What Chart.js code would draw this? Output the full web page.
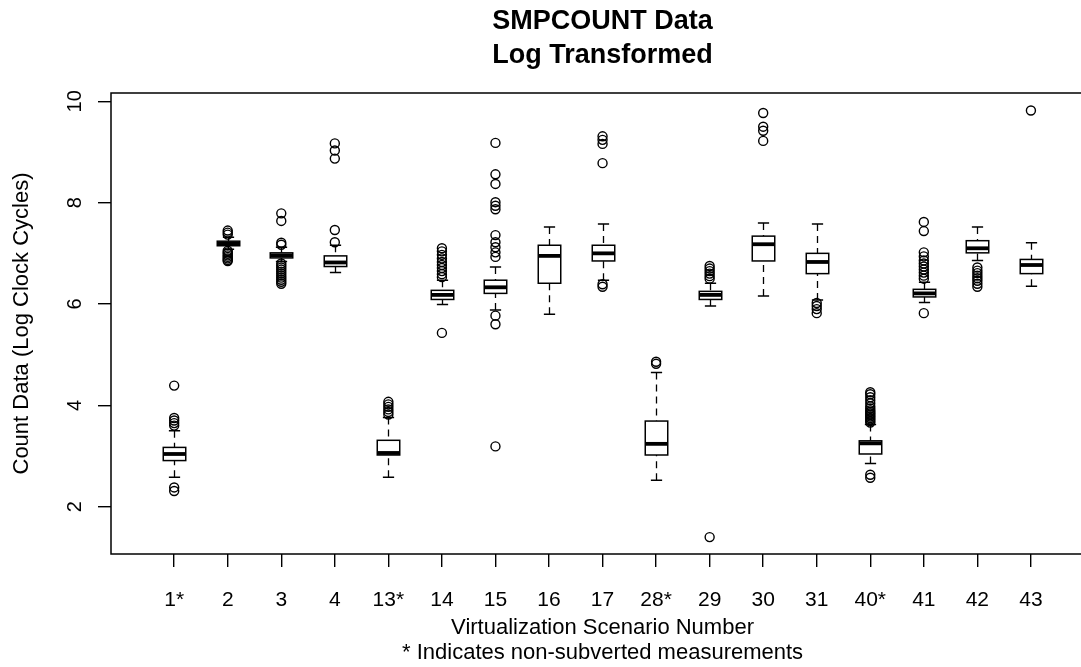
<!DOCTYPE html>
<html>
<head>
<meta charset="utf-8">
<title>SMPCOUNT Data - Log Transformed</title>
<script src="https://cdn.jsdelivr.net/npm/chart.js@4.4.1/dist/chart.umd.min.js"></script>
<style>
  html, body { margin: 0; padding: 0; background: #fff; overflow: hidden; }
  canvas { display: block; }
</style>
</head>
<body>
<!-- plot region runs a bit past the right edge of the window, like the cropped original -->
<canvas id="box-chart" width="1100" height="667" style="width:1100px;height:667px"></canvas>
<script>
// scenario labels (* = non-subverted)
const scenarios = ['1*', '2', '3', '4', '13*', '14', '15', '16', '17', '28*', '29', '30', '31', '40*', '41', '42', '43'];

// five-number summaries
const whiskerLow  = [2.58, 7.08, 6.84, 6.62, 2.58, 5.99, 5.88, 5.80, 6.47, 2.52, 5.96, 6.16, 6.08, 2.85, 6.03, 6.86, 6.35];
const q1          = [2.91, 7.15, 6.91, 6.74, 3.02, 6.09, 6.21, 6.41, 6.85, 3.02, 6.09, 6.85, 6.60, 3.04, 6.14, 7.01, 6.60];
const medians     = [3.04, 7.19, 6.96, 6.82, 3.06, 6.18, 6.33, 6.95, 7.00, 3.24, 6.18, 7.18, 6.83, 3.25, 6.21, 7.10, 6.77];
const q3          = [3.17, 7.24, 7.01, 6.95, 3.31, 6.27, 6.47, 7.16, 7.16, 3.69, 6.25, 7.34, 7.00, 3.30, 6.29, 7.25, 6.88];
const whiskerHigh = [3.50, 7.32, 7.12, 7.16, 3.76, 6.47, 6.73, 7.52, 7.58, 4.65, 6.41, 7.60, 7.58, 3.62, 6.43, 7.52, 7.21];

const outliers = [
  [2.31, 2.38, 3.60, 3.65, 3.70, 3.75, 4.39],
  [7.37, 7.41, 7.45, 7.05, 7.02, 6.99, 6.96, 6.93, 6.90, 6.87, 6.85],
  [7.79, 7.64, 7.21, 7.17, 6.80, 6.76, 6.72, 6.68, 6.64, 6.60, 6.56, 6.52, 6.48, 6.44, 6.40],
  [9.17, 9.03, 8.87, 7.46, 7.22],
  [3.82, 3.87, 3.92, 3.97, 4.02, 4.07],
  [6.53, 6.59, 6.65, 6.71, 6.77, 6.83, 6.90, 6.97, 7.04, 7.10, 5.43],
  [9.18, 8.56, 8.37, 8.01, 7.94, 7.87, 7.36, 7.22, 7.12, 7.02, 6.93, 5.77, 5.60, 3.19],
  [],
  [9.31, 9.24, 9.16, 8.78, 6.39, 6.34],
  [4.82, 4.86],
  [6.50, 6.55, 6.60, 6.65, 6.70, 6.75, 1.40],
  [9.77, 9.50, 9.42, 9.22],
  [6.02, 5.96, 5.90, 5.82],
  [3.66, 3.69, 3.72, 3.75, 3.78, 3.81, 3.84, 3.87, 3.90, 3.94, 3.98, 4.04, 4.10, 4.16, 4.22, 4.26, 2.63, 2.57],
  [7.62, 7.44, 7.02, 6.94, 6.86, 6.80, 6.74, 6.68, 6.62, 6.56, 6.50, 5.82],
  [6.72, 6.66, 6.61, 6.56, 6.51, 6.46, 6.40, 6.34],
  [9.82]
];

const yTicks = [2, 4, 6, 8, 10];

const FONT = 'Liberation Sans, Arial, Helvetica, sans-serif';
const BOX_HALF = 0.21;   // half box width, in x units

// outlier points for the scatter dataset
let outlierPoints = [];
outliers.forEach(function(list, i) {
  list.forEach(function(v) {
    outlierPoints.push({x: i + 1, y: v});
  });
});

// draws boxes, whiskers and medians using the chart scales
const boxplotPlugin = {
  id: 'boxplot',
  beforeDatasetsDraw(chart) {
    const ctx = chart.ctx;
    const xs = chart.scales.x;
    const ys = chart.scales.y;
    const half = xs.getPixelForValue(1 + BOX_HALF) - xs.getPixelForValue(1);

    ctx.save();
    ctx.strokeStyle = '#000';
    scenarios.forEach(function(s, i) {
      const cx = Math.round(xs.getPixelForValue(i + 1)) + 0.5;
      const yLo = ys.getPixelForValue(whiskerLow[i]);
      const yQ1 = ys.getPixelForValue(q1[i]);
      const yMed = ys.getPixelForValue(medians[i]);
      const yQ3 = ys.getPixelForValue(q3[i]);
      const yHi = ys.getPixelForValue(whiskerHigh[i]);

      // dashed whiskers
      ctx.lineWidth = 1.3;
      ctx.setLineDash([7, 5]);
      ctx.beginPath();
      ctx.moveTo(cx, yLo); ctx.lineTo(cx, yQ1);
      ctx.moveTo(cx, yHi); ctx.lineTo(cx, yQ3);
      ctx.stroke();
      ctx.setLineDash([]);

      // staples
      ctx.lineWidth = 1.5;
      ctx.beginPath();
      ctx.moveTo(cx - half / 2, yLo); ctx.lineTo(cx + half / 2, yLo);
      ctx.moveTo(cx - half / 2, yHi); ctx.lineTo(cx + half / 2, yHi);
      ctx.stroke();

      // box
      ctx.fillStyle = '#fff';
      ctx.fillRect(cx - half, yQ3, 2 * half, yQ1 - yQ3);
      ctx.strokeRect(cx - half, yQ3, 2 * half, yQ1 - yQ3);

      // median
      ctx.lineWidth = 3.8;
      ctx.beginPath();
      ctx.moveTo(cx - half, yMed); ctx.lineTo(cx + half, yMed);
      ctx.stroke();
    });
    ctx.restore();
  },
  afterDraw(chart) {
    // frame around the plot region
    const a = chart.chartArea;
    const ctx = chart.ctx;
    ctx.save();
    ctx.strokeStyle = '#000';
    ctx.lineWidth = 1.5;
    ctx.strokeRect(a.left, a.top, a.right - a.left, a.bottom - a.top);
    ctx.restore();
  }
};

new Chart(document.getElementById('box-chart'), {
  type: 'scatter',
  data: {
    datasets: [{
      data: outlierPoints,
      pointStyle: 'circle',
      pointRadius: 4.5,
      pointBorderWidth: 1.4,
      pointBorderColor: '#000',
      pointBackgroundColor: 'rgba(0,0,0,0)'
    }]
  },
  options: {
    responsive: false,
    animation: false,
    events: [],
    layout: { padding: { left: 0, right: 5, top: 0, bottom: 0 } },
    plugins: {
      legend: { display: false },
      tooltip: { enabled: false },
      title: {
        display: true,
        fullSize: false,
        text: ['SMPCOUNT Data', 'Log Transformed'],
        color: '#000',
        font: { family: FONT, size: 27, weight: 'bold', lineHeight: '34px' },
        padding: { top: 5, bottom: 20 }
      }
    },
    scales: {
      x: {
        type: 'linear',
        min: -0.18,
        max: 18.18,
        afterBuildTicks: function(axis) {
          axis.ticks = scenarios.map(function(s, i) { return {value: i + 1}; });
        },
        afterFit: function(axis) { axis.height = 113; },
        ticks: {
          autoSkip: false,
          maxRotation: 0,
          minRotation: 0,
          padding: 21,
          color: '#000',
          font: { family: FONT, size: 21 },
          callback: function(v) { return scenarios[v - 1]; }
        },
        grid: { drawOnChartArea: false, drawTicks: true, tickLength: 13, color: '#000', lineWidth: 1.4 },
        border: { display: false },
        title: {
          display: true,
          text: ['Virtualization Scenario Number', '* Indicates non-subverted measurements'],
          color: '#000',
          font: { family: FONT, size: 22, lineHeight: '25px' },
          padding: { top: 0, bottom: 2 }
        }
      },
      y: {
        type: 'linear',
        min: 1.066,
        max: 10.165,
        afterBuildTicks: function(axis) {
          axis.ticks = yTicks.map(function(v) { return {value: v}; });
        },
        afterFit: function(axis) { axis.width = 111; },
        ticks: {
          minRotation: 90,
          maxRotation: 90,
          crossAlign: 'center',
          padding: 11,
          color: '#000',
          font: { family: FONT, size: 20 }
        },
        grid: { drawOnChartArea: false, drawTicks: true, tickLength: 13, color: '#000', lineWidth: 1.4 },
        border: { display: false },
        title: {
          display: true,
          text: 'Count Data (Log Clock Cycles)',
          color: '#000',
          font: { family: FONT, size: 22 },
          padding: { top: 9, bottom: 0 }
        }
      }
    }
  },
  plugins: [boxplotPlugin]
});
</script>
</body>
</html>
